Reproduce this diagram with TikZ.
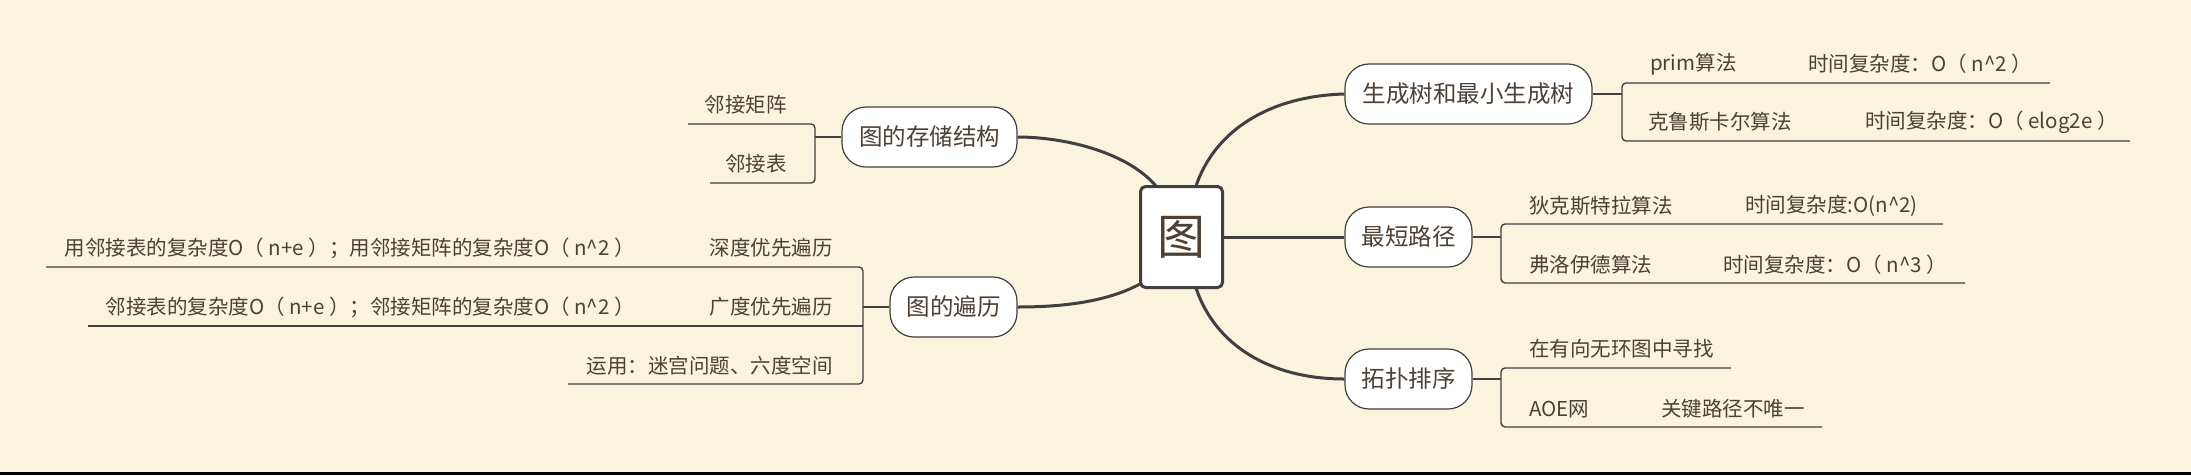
\documentclass[tikz,border=0pt]{standalone}
\usepackage{fontspec}
\setmainfont{Noto Sans CJK SC}
\definecolor{bg}{HTML}{FAF3DE}
\definecolor{ln}{HTML}{404040}
\definecolor{tx}{HTML}{4E4034}
\tikzset{
  pill/.style={draw=ln,fill=white,line width=1.2pt,rounded corners=24pt,minimum height=60pt,inner xsep=10pt,font=\fontsize{23.5}{25}\selectfont,text=tx},
  lbl/.style={font=\fontsize{20.5}{22}\selectfont,text=tx,inner sep=0pt},
  br/.style={draw=ln,line width=1.4pt,rounded corners=4pt},
  cv/.style={draw=ln,line width=3pt},
}
\begin{document}
\begin{tikzpicture}[x=1pt,y=-1pt]
\fill[bg] (0,0) rectangle (2191,475);
\useasboundingbox (0,0) rectangle (2191,475);
\fill[black] (0,472) rectangle (2191,475);
% center
\node[draw=ln,fill=white,line width=3pt,rounded corners=5pt,minimum width=82pt,minimum height=101pt,font=\fontsize{48}{50}\selectfont,text=tx] (c) at (1181.5,237) {图};
% main pills
\node[pill,minimum width=247pt] (t1) at (1468.5,94) {生成树和最小生成树};
\node[pill,minimum width=127pt] (t2) at (1408.5,237) {最短路径};
\node[pill,minimum width=127pt] (t3) at (1408.5,379) {拓扑排序};
\node[pill,minimum width=175pt] (s) at (929.5,137) {图的存储结构};
\node[pill,minimum width=127pt] (b) at (953.5,307) {图的遍历};
% curves
\coordinate (ct) at (1196,186); \coordinate (cb) at (1196,288);
\coordinate (ctl) at (1156,186); \coordinate (cbl) at (1140,284);
\draw[cv] (ct) .. controls (1215,130) and (1270,96) .. (t1.west);
\draw[cv] (c.east) -- (t2.west);
\draw[cv] (cb) .. controls (1215,345) and (1270,379) .. (t3.west);
\draw[cv] (s.east) .. controls (1060,137) and (1125,150) .. (ctl);
\draw[cv] (b.east) .. controls (1070,307) and (1110,300) .. (cbl);
% right brackets
\coordinate (r1a) at (2050,83); \coordinate (r1b) at (2130,141);
\draw[br] (t1.east) -- (1622,94);
\draw[br] (r1a) -- (1622,83) -- (1622,141) -- (r1b);
\node[lbl,anchor=west] (p1) at (1650,64) {prim算法};
\node[lbl,anchor=west] (p2) at (1808,64) {时间复杂度：O（ n\^{}2 ）};
\node[lbl,anchor=west] (k1) at (1648,122) {克鲁斯卡尔算法};
\node[lbl,anchor=west] (k2) at (1865,122) {时间复杂度：O（ elog2e ）};
\coordinate (r2a) at (1943,224); \coordinate (r2b) at (1965,283);
\draw[br] (t2.east) -- (1501,237);
\draw[br] (r2a) -- (1501,224) -- (1501,283) -- (r2b);
\node[lbl,anchor=west] (d1) at (1529,206) {狄克斯特拉算法};
\node[lbl,anchor=west] (d2) at (1745,206) {时间复杂度:O(n\^{}2)};
\node[lbl,anchor=west] (f1) at (1529,265) {弗洛伊德算法};
\node[lbl,anchor=west] (f2) at (1723,265) {时间复杂度：O（ n\^{}3 ）};
\coordinate (r3a) at (1731,368); \coordinate (r3b) at (1822,427);
\draw[br] (t3.east) -- (1501,379);
\draw[br] (r3a) -- (1501,368) -- (1501,427) -- (r3b);
\node[lbl,anchor=west] (g1) at (1529,349) {在有向无环图中寻找};
\node[lbl,anchor=west] (g2) at (1529,409) {AOE网};
\node[lbl,anchor=west] (g3) at (1661,409) {关键路径不唯一};
% left brackets
\coordinate (l1a) at (688,124); \coordinate (l1b) at (710,183);
\draw[br] (s.west) -- (815,137);
\draw[br] (l1a) -- (815,124) -- (815,183) -- (l1b);
\node[lbl,anchor=east] (m1) at (787,105) {邻接矩阵};
\node[lbl,anchor=east] (m2) at (787,164) {邻接表};
\coordinate (l2a) at (46,267); \coordinate (l2b) at (88,326); \coordinate (l2c) at (568,384);
\draw[br] (b.west) -- (863,307);
\draw[br] (l2a) -- (863,267) -- (863,384) -- (l2c);
\draw[br] (l2b) -- (863,326);
\node[lbl,anchor=east] (e1) at (833,248) {深度优先遍历};
\node[lbl,anchor=east] (e2) at (635,248) {用邻接表的复杂度O（ n+e ）；用邻接矩阵的复杂度O（ n\^{}2 ）};
\node[lbl,anchor=east] (h1) at (833,307) {广度优先遍历};
\node[lbl,anchor=east] (h2) at (635,307) {邻接表的复杂度O（ n+e ）；邻接矩阵的复杂度O（ n\^{}2 ）};
\node[lbl,anchor=east] (u1) at (833,366) {运用：迷宫问题、六度空间};
\end{tikzpicture}
\end{document}
